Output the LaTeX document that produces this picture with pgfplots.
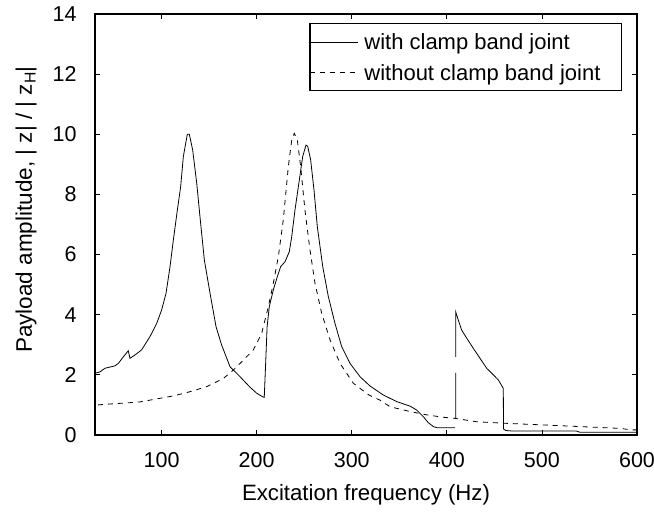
\documentclass[border=0pt]{standalone}
\usepackage{pgfplots}
\pgfplotsset{compat=1.18}
\usepackage{fontspec}
\setmainfont{Liberation Sans}
\begin{document}
\begin{tikzpicture}
\begin{axis}[
  scale only axis,
  width=542bp, height=421bp,
  xmin=30, xmax=600, ymin=0, ymax=14,
  xtick={100,200,300,400,500,600},
  ytick={0,2,4,6,8,10,12,14},
  tick align=inside,
  major tick length=5bp,
  axis line style={line width=1.1bp},
  every tick/.style={line width=0.8bp, black},
  /pgf/number format/assume math mode=true,
  tick label style={font=\fontsize{21.5bp}{25bp}\selectfont},
  xticklabel style={yshift=-14bp},
  yticklabel style={xshift=-15bp},
  xlabel={Excitation frequency (Hz)},
  ylabel={Payload amplitude, |\;z| / |\;z\textsubscript{H}|},
  xlabel style={font=\fontsize{22.2bp}{26bp}\selectfont, yshift=-10bp},
  ylabel style={font=\fontsize{22.5bp}{26bp}\selectfont, yshift=9bp, xshift=15bp},
  unbounded coords=jump,
  legend style={at={(0.9723,0.978)}, anchor=north east, draw=black, line width=1.1bp,
    font=\fontsize{22bp}{26bp}\selectfont, inner xsep=0bp, inner ysep=2.85bp, row sep=0bp,
    column sep=1bp,
    nodes={inner xsep=5bp, inner ysep=4.85bp, text height=18bp, text depth=3bp},
    cells={anchor=west}},
  legend image code/.code={\draw[#1, line width=0.8bp] (0bp,0bp) -- (47.6bp,0bp);},
]
\addplot[black, line width=0.8bp] coordinates {
(30,2.05)(35.3,2.1)(40.5,2.22)(51,2.3)(54.5,2.38)(59.8,2.6)(65,2.8)(66.8,2.55)(72,2.66)(79,2.83)(87.8,3.27)(94.9,3.71)(100.1,4.16)(104.7,4.71)(108.9,5.6)(112.4,6.48)(116.6,7.48)(120.1,8.26)(122.9,9.26)(127.1,10.0)(129.2,10.0)(132.7,9.48)(137,8.37)(140.4,7.26)(145,5.82)(151,4.71)(157.3,3.6)(163.2,2.99)(172,2.27)(182.5,1.94)(193,1.59)(200,1.39)(206.4,1.27)(208,1.25)(209.5,2.4)(211,3.6)(213.3,4.27)(217.5,4.82)(221.7,5.26)(225.3,5.6)(229.8,5.76)(234.4,6.1)(236.9,6.6)(240.3,7.48)(244.9,8.48)(248.4,9.26)(251.9,9.64)(253.7,9.6)(256.8,9.15)(260.3,8.15)(263.8,6.93)(269.5,5.6)(275.4,4.6)(282.4,3.71)(289.4,2.94)(298.2,2.38)(308.7,1.94)(319.2,1.63)(333.2,1.33)(347.3,1.11)(361.3,0.96)(368.3,0.83)(375.3,0.61)(380.5,0.41)(385.8,0.28)(390,0.24)(408.6,0.24)
(409,nan)
(409.3,0.55)(409.3,2.07)
(409.3,nan)
(409.3,2.6)(409.3,4.1)(412.1,3.82)(415.6,3.49)(420.9,3.22)(427.9,2.88)(434.9,2.55)(441.9,2.22)(448.9,2.0)(454.2,1.83)(459.4,1.55)(459.6,0.2)(462,0.15)(470,0.13)(536.6,0.13)(540,0.09)(600,0.09)
};
\addlegendentry{with clamp band joint}
\addplot[black, line width=0.8bp, dash pattern=on 5bp off 5bp] coordinates {
(33,1.0)(40.5,1.02)(60,1.06)(77.3,1.1)(94.9,1.2)(112.4,1.3)(130,1.44)(147.5,1.61)(165,1.88)(175.5,2.16)(186,2.49)(196.5,2.83)(205.3,3.38)(212.3,4.27)(217.5,5.04)(222.8,5.93)(228,7.15)(233.3,8.92)(236.9,9.81)(239.6,10.03)(242.8,9.81)(246.3,8.92)(250.8,7.48)(256.1,6.15)(261.4,5.04)(268.4,4.05)(277.2,3.16)(287.7,2.38)(301.7,1.72)(318,1.33)(329.7,1.16)(340.3,0.94)(361.3,0.78)(378.8,0.67)(396.3,0.59)(409.3,0.55)(431.4,0.44)(461,0.39)(526.1,0.30)(582,0.22)(594.4,0.17)(600,0.17)
};
\addlegendentry{without clamp band joint\rule{16bp}{0pt}}
\end{axis}
\pgfresetboundingbox
\path[use as bounding box] ([xshift=-95bp,yshift=-77bp]current axis.south west) rectangle ([xshift=17bp,yshift=14bp]current axis.north east);
\end{tikzpicture}
\end{document}
